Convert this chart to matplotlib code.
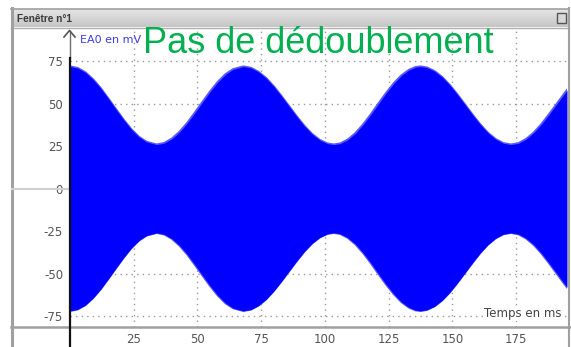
import matplotlib
matplotlib.use("Agg")
import matplotlib.pyplot as plt
from matplotlib.patches import Rectangle
from matplotlib.colors import LinearSegmentedColormap
import numpy as np

plt.rcParams["axes.unicode_minus"] = False

# envelope of the EA0 signal (mV) against time (ms)
t_ms = [0, 3, 6, 9, 12, 15, 18, 21, 24, 27, 30, 34,
        37, 40, 43, 46, 49, 52, 55, 58, 61, 64, 68,
        71, 74, 77, 80, 83, 86, 89, 92, 95, 98, 101, 103.5,
        106, 109, 112, 115, 118, 121, 124, 127, 130, 133, 135.5, 137.5,
        140, 143, 146, 149, 152, 155, 158, 161, 164, 167, 170, 173,
        176, 179, 182, 185, 188, 191, 194, 195]
env_upper = [72, 71.1, 68.6, 64.5, 59.3, 53.2, 46.9, 40.7, 35.1, 30.6, 27.6, 26,
             26.9, 29.5, 33.5, 38.7, 44.8, 51.1, 57.3, 62.9, 67.4, 70.4, 72,
             71.2, 68.8, 65.1, 60.2, 54.5, 48.5, 42.5, 36.9, 32.2, 28.7, 26.6, 26,
             26.6, 28.9, 32.7, 37.8, 43.7, 50.1, 56.3, 62.0, 66.7, 70.0, 71.6, 72,
             71.4, 69.3, 65.8, 61.1, 55.5, 49.5, 43.5, 37.8, 32.9, 29.2, 26.8, 26,
             26.8, 29.3, 33.1, 38.1, 43.9, 50.0, 56.1, 58.1]
env_lower = [-v for v in env_upper]

x_ticks = [25, 50, 75, 100, 125, 150, 175]
y_ticks = [-75, -50, -25, 0, 25, 50, 75]

W, H = 571, 347
fig = plt.figure(figsize=(W / 100, H / 100), dpi=100)
fig.patch.set_facecolor("white")

# pixel helpers for the window decorations
def fx(x):
    return x / W

def fy(y):
    return 1 - y / H

left, right, top, bottom = 70, 567, 28, 327
ax = fig.add_axes([fx(left), fy(bottom), fx(right - left), (bottom - top) / H])
ax.set_xlim(0, 195)
ax.set_ylim(-81.5, 94.7)

ax.fill_between(t_ms, env_lower, env_upper, color="#0000ff", lw=0, zorder=3)
ax.plot(t_ms, env_upper, color="#5a5aff", lw=1.6, zorder=2)
ax.plot(t_ms, env_lower, color="#5a5aff", lw=1.6, zorder=2)

ax.set_xticks(x_ticks)
ax.set_yticks(y_ticks)
ax.tick_params(length=0, labelsize=8.5, labelcolor="#555555")
ax.tick_params(axis="y", pad=5)
ax.tick_params(axis="x", pad=4)
ax.grid(True, linestyle=(0, (1, 3)), color="#9a9a9a", lw=1)
ax.set_axisbelow(True)
for s in ax.spines.values():
    s.set_visible(False)

# overlay for the window frame and labels
ov = fig.add_axes([0, 0, 1, 1], zorder=5)
ov.set_xlim(0, W)
ov.set_ylim(H, 0)
ov.axis("off")
ov.patch.set_alpha(0)

# title bar
bar_cmap = LinearSegmentedColormap.from_list("bar", ["#e4e4e4", "#d6d6d6", "#c6c6c6"])
grad = np.linspace(0, 1, 20).reshape(-1, 1)
ov.imshow(grad, extent=[11, 569, 27, 9], cmap=bar_cmap, aspect="auto", zorder=1)
ov.plot([11, 569], [8.5, 8.5], color="#a0a0a0", lw=1.2)
ov.plot([11, 569], [27.5, 27.5], color="#b0b0b0", lw=1)
ov.text(17, 18.5, "Fenêtre n°1", fontsize=7.3, fontweight="bold", color="#3a3a3a",
        va="center", ha="left", family="Liberation Sans")
ov.add_patch(Rectangle((557, 13), 9, 10, fc="#d8d8d8", ec="#555555", lw=1, zorder=3))

# frame lines
ov.plot([11.5, 11.5], [8, H], color="#a0a0a0", lw=2.2)
ov.plot([569, 569], [8, H], color="#a0a0a0", lw=1.5)
ov.plot([11, W], [327, 327], color="#a0a0a0", lw=1.8)
ov.plot([12, 69], [188.7, 188.7], color="#d0d0d0", lw=1.5)

# vertical axis with arrow
ov.plot([69.5, 69.5], [31, 58], color="#707070", lw=1)
ov.plot([69.5, 69.5], [58, H], color="#111111", lw=1.6)
ov.plot([64, 69.5, 75], [37, 30.5, 37], color="#555555", lw=1.2)

ov.text(80, 40, "EA0 en mV", fontsize=8, color="#3c3cf0", va="center", ha="left")
ov.text(562, 314, "Temps en ms", fontsize=8.5, color="#444444", va="center", ha="right",
        bbox=dict(fc="white", ec="none", pad=0.5))
ov.text(143, 53, "Pas de dédoublement", fontsize=26, color="#00b050",
        va="baseline", ha="left", family="Liberation Sans", zorder=6)

fig.savefig("out.png", dpi=100)
